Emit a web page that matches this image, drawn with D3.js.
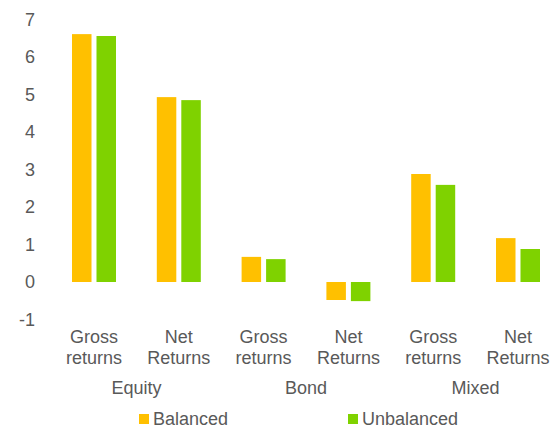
<!DOCTYPE html>
<html>
<head>
<meta charset="utf-8">
<script src="https://cdn.jsdelivr.net/npm/d3@7"></script>
<style>
  html, body { margin: 0; padding: 0; background: #fff; overflow: hidden; }
  svg { display: block; }
  text { font-family: "Liberation Sans", Arial, sans-serif; fill: #595959; }
</style>
</head>
<body>
<svg id="chart" width="551" height="427"></svg>
<script>
const groups = ["Equity", "Bond", "Mixed"];
const subCategories = ["Gross returns", "Net Returns"];
const seriesNames = ["Balanced", "Unbalanced"];
const balanced = [6.61, 4.93, 0.67, -0.48, 2.88, 1.17];
const unbalanced = [6.56, 4.85, 0.61, -0.51, 2.59, 0.88];
const yTicks = [-1, 0, 1, 2, 3, 4, 5, 6, 7];
const colors = ["#FFC000", "#7FD200"];

const categories = [];
groups.forEach(g => subCategories.forEach(s => categories.push({ key: g + "|" + s, group: g, label: s })));
const table = categories.map((c, i) => ({ ...c, values: [balanced[i], unbalanced[i]] }));

const svg = d3.select("#chart");
const fontSize = 18;

const x0 = d3.scaleBand().domain(categories.map(c => c.key)).range([51.6, 560.4]).padding(0);
const pairW = 44;
const x1 = d3.scaleBand().domain(seriesNames)
  .range([(x0.bandwidth() - pairW) / 2, (x0.bandwidth() + pairW) / 2])
  .paddingInner(0.204).paddingOuter(0);
const y = d3.scaleLinear().domain([-1, 7]).range([319.5, 19.5]);

// Y axis (labels only)
const yAxis = d3.axisLeft(y).tickValues(yTicks).tickSize(0).tickPadding(0).tickFormat(d => String(d));
const yg = svg.append("g").attr("transform", "translate(35,0)").call(yAxis);
yg.select(".domain").remove();
yg.selectAll("text").style("font-size", fontSize + "px").attr("fill", "#595959")
  .style("font-family", '"Liberation Sans", Arial, sans-serif');

// Bars
const catG = svg.append("g").selectAll("g").data(table).join("g")
  .attr("transform", d => `translate(${x0(d.key)},0)`);
catG.selectAll("rect").data(d => d.values.map((v, i) => ({ v, s: seriesNames[i], i })))
  .join("rect")
  .attr("x", d => x1(d.s))
  .attr("width", x1.bandwidth())
  .attr("y", d => y(Math.max(0, d.v)))
  .attr("height", d => Math.abs(y(d.v) - y(0)))
  .attr("fill", d => colors[d.i]);

// Category labels (two lines)
const labG = svg.append("g").selectAll("text").data(table).join("text")
  .attr("text-anchor", "middle")
  .style("font-size", fontSize + "px")
  .attr("transform", d => `translate(${x0(d.key) + x0.bandwidth() / 2},0)`);
labG.each(function(d) {
  const words = d.label.split(" ");
  const t = d3.select(this);
  words.forEach((w, k) => t.append("tspan").attr("x", 0).attr("y", 343 + k * 21).text(w));
});

// Group labels
svg.append("g").selectAll("text").data(groups).join("text")
  .attr("text-anchor", "middle")
  .style("font-size", fontSize + "px")
  .attr("x", g => {
    const ks = categories.filter(c => c.group === g).map(c => x0(c.key) + x0.bandwidth() / 2);
    return d3.mean(ks);
  })
  .attr("y", 394)
  .text(g => g);

// Legend
const legendX = [139, 348];
const lg = svg.append("g").selectAll("g").data(seriesNames).join("g")
  .attr("transform", (d, i) => `translate(${legendX[i]},414)`);
lg.append("rect").attr("width", 10).attr("height", 10).attr("fill", (d, i) => colors[i]);
lg.append("text").attr("x", 14).attr("y", 10.5).style("font-size", fontSize + "px").text(d => d);
</script>
</body>
</html>
